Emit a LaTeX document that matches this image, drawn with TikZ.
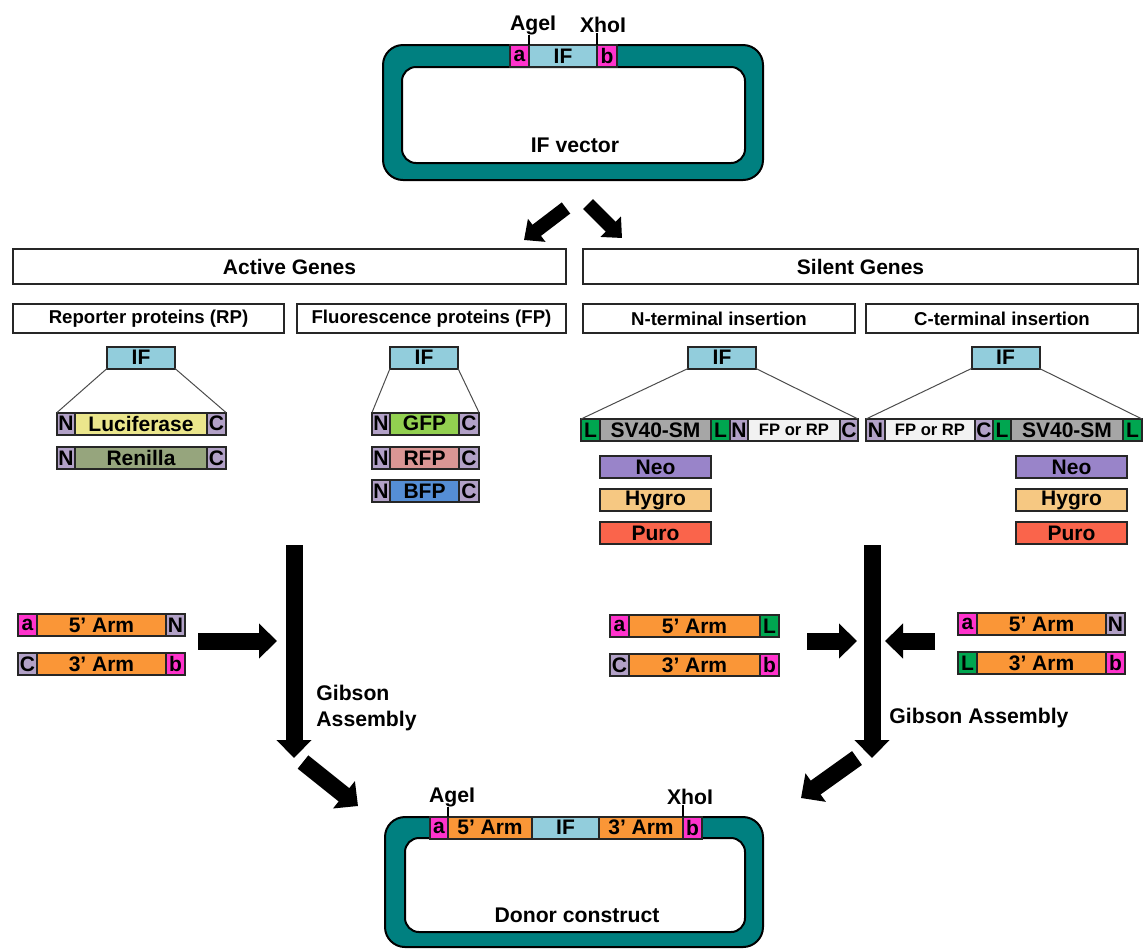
\documentclass[tikz,border=0pt]{standalone}
\usepackage{fontspec}
\setmainfont{Liberation Sans}
\usetikzlibrary{arrows.meta}

\definecolor{vecteal}{RGB}{0,128,128}
\definecolor{sitepink}{RGB}{255,51,204}
\definecolor{ifblue}{RGB}{146,205,220}
\definecolor{tagpurple}{RGB}{178,161,199}
\definecolor{lucyellow}{RGB}{235,230,140}
\definecolor{renolive}{RGB}{150,165,125}
\definecolor{gfpgreen}{RGB}{146,208,80}
\definecolor{rfppink}{RGB}{218,150,148}
\definecolor{bfpblue}{RGB}{85,142,213}
\definecolor{linkgreen}{RGB}{0,166,80}
\definecolor{svgray}{RGB}{166,166,166}
\definecolor{fpwhite}{RGB}{242,242,242}
\definecolor{neopurple}{RGB}{153,132,201}
\definecolor{hygrotan}{RGB}{246,200,130}
\definecolor{purored}{RGB}{250,100,75}
\definecolor{armorange}{RGB}{250,150,55}

\begin{document}
\begin{tikzpicture}[x=0.5pt, y=-0.5pt,
    seg/.style={draw=black!85, line width=1pt, inner sep=0pt, outer sep=0pt,
      minimum height=11pt, anchor=west, font=\bfseries\fontsize{10.5}{12}\selectfont},
    hdr/.style={draw=black!85, line width=1.3pt, inner sep=0pt, minimum height=17.5pt,
      font=\bfseries\fontsize{10.5}{12}\selectfont},
    subhdr/.style={draw=black!85, line width=1.2pt, inner sep=0pt, minimum height=14.5pt,
      font=\bfseries\fontsize{9.3}{11}\selectfont},
    lbl/.style={inner sep=0pt, font=\bfseries\fontsize{10.6}{13}\selectfont},
    vecframe/.style={draw=black, line width=1pt, fill=vecteal, rounded corners=10pt},
    vechole/.style={draw=black, line width=1pt, fill=white, rounded corners=7pt},
    fan/.style={draw=black!70, line width=0.5pt},
    site/.style={line width=1pt},
    blockarrow/.style={line width=8.5pt, -{Triangle[length=9pt, width=17pt]}},
    smallarrow/.style={line width=7pt, -{Triangle[length=8pt, width=14pt]}}]

        \useasboundingbox (0,0) rectangle (1143,949);

        % IF vector
        \node[vecframe, minimum width=190pt, minimum height=67.5pt] (vec) at (573,112.5) {};
        \node[vechole, minimum width=171.5pt, minimum height=48pt] (vecin) at (573.5,115) {};
        \node[lbl] (vectxt) at (575,145) {IF vector};

        \node[seg, fill=sitepink, minimum width=9.5pt] (va) at (510,56) {a};
        \node[seg, fill=ifblue, minimum width=34pt] (vif) at (va.east) {IF};
        \node[seg, fill=sitepink, minimum width=10pt] (vb) at (vif.east) {b};

        \node[lbl] (vage) at (533,25) {AgeI};
        \node[lbl] (vxho) at (603,25) {XhoI};
        \draw[site] (vif.north west) to (vif.north west |- vage.south);
        \draw[site] (vif.north east) to (vif.north east |- vxho.south);

        \coordinate (ta1) at (566,208);
        \coordinate (ta2) at (524,240);
        \coordinate (tb1) at (588,204);
        \coordinate (tb2) at (622,238);
        \draw[smallarrow] (ta1) to (ta2);
        \draw[smallarrow] (tb1) to (tb2);

        % headers
        \node[hdr, minimum width=276.5pt] (act) at (289.5,266.5) {Active Genes};
        \node[hdr, minimum width=277.5pt] (sil) at (860.5,266.5) {Silent Genes};

        \node[subhdr, minimum width=135.5pt] (rp) at (148.5,318.5) {Reporter proteins (RP)};
        \node[subhdr, minimum width=134.5pt] (fp) at (431.5,318.5) {Fluorescence proteins (FP)};
        \node[subhdr, minimum width=136pt] (nt) at (719,318.5) {N-terminal insertion};
        \node[subhdr, minimum width=136pt] (ct) at (1002,318.5) {C-terminal insertion};

        % reporter proteins
        \node[seg, fill=ifblue, minimum width=34pt, anchor=center] (rpif) at (141,357.5) {IF};

        \node[seg, fill=tagpurple, minimum width=9pt] (lucN) at (57,423.5) {N};
        \node[seg, fill=lucyellow, minimum width=66pt] (luc) at (lucN.east) {Luciferase};
        \node[seg, fill=tagpurple, minimum width=9.5pt] (lucC) at (luc.east) {C};

        \node[seg, fill=tagpurple, minimum width=9pt] (renN) at (57,458) {N};
        \node[seg, fill=renolive, minimum width=66pt] (ren) at (renN.east) {Renilla};
        \node[seg, fill=tagpurple, minimum width=9.5pt] (renC) at (ren.east) {C};

        \draw[fan] (rpif.south west) to (lucN.north west);
        \draw[fan] (rpif.south east) to (lucC.north east);

        % fluorescence proteins
        \node[seg, fill=ifblue, minimum width=34pt, anchor=center] (fpif) at (424,357.5) {IF};

        \node[seg, fill=tagpurple, minimum width=9pt] (gfpN) at (372,423.5) {N};
        \node[seg, fill=gfpgreen, minimum width=34.5pt] (gfp) at (gfpN.east) {GFP};
        \node[seg, fill=tagpurple, minimum width=10pt] (gfpC) at (gfp.east) {C};

        \node[seg, fill=tagpurple, minimum width=9pt] (rfpN) at (372,458) {N};
        \node[seg, fill=rfppink, minimum width=34.5pt] (rfp) at (rfpN.east) {RFP};
        \node[seg, fill=tagpurple, minimum width=10pt] (rfpC) at (rfp.east) {C};

        \node[seg, fill=tagpurple, minimum width=9pt] (bfpN) at (372,491) {N};
        \node[seg, fill=bfpblue, minimum width=34.5pt] (bfp) at (bfpN.east) {BFP};
        \node[seg, fill=tagpurple, minimum width=10pt] (bfpC) at (bfp.east) {C};

        \draw[fan] (fpif.south west) to (gfpN.north west);
        \draw[fan] (fpif.south east) to (gfpC.north east);

        % N-terminal insertion
        \node[seg, fill=ifblue, minimum width=34pt, anchor=center] (ntif) at (722,357.5) {IF};

        \node[seg, fill=linkgreen, minimum width=9.5pt] (ntL1) at (581,430) {L};
        \node[seg, fill=svgray, minimum width=55.5pt] (ntsv) at (ntL1.east) {SV40-SM};
        \node[seg, fill=linkgreen, minimum width=9.5pt] (ntL2) at (ntsv.east) {L};
        \node[seg, fill=tagpurple, minimum width=9pt] (ntN) at (ntL2.east) {N};
        \node[seg, fill=fpwhite, minimum width=46pt, font=\bfseries\fontsize{8.3}{10}\selectfont] (ntfp) at (ntN.east) {FP or RP};
        \node[seg, fill=tagpurple, minimum width=9pt] (ntC) at (ntfp.east) {C};

        \draw[fan] (ntif.south west) to (ntL1.north west);
        \draw[fan] (ntif.south east) to (ntC.north east);

        \node[seg, fill=neopurple, minimum width=55.5pt] (ntneo) at (600,467) {Neo};
        \node[seg, fill=hygrotan, minimum width=55.5pt] (nthyg) at (600,500) {Hygro};
        \node[seg, fill=purored, minimum width=55.5pt] (ntpur) at (600,533) {Puro};

        % C-terminal insertion
        \node[seg, fill=ifblue, minimum width=34pt, anchor=center] (ctif) at (1005.5,357.5) {IF};

        \node[seg, fill=tagpurple, minimum width=9.5pt] (ctN) at (866,430) {N};
        \node[seg, fill=fpwhite, minimum width=45pt, font=\bfseries\fontsize{8.3}{10}\selectfont] (ctfp) at (ctN.east) {FP or RP};
        \node[seg, fill=tagpurple, minimum width=9pt] (ctC) at (ctfp.east) {C};
        \node[seg, fill=linkgreen, minimum width=9pt] (ctL1) at (ctC.east) {L};
        \node[seg, fill=svgray, minimum width=56pt] (ctsv) at (ctL1.east) {SV40-SM};
        \node[seg, fill=linkgreen, minimum width=9.5pt] (ctL2) at (ctsv.east) {L};

        \draw[fan] (ctif.south west) to (ctN.north west);
        \draw[fan] (ctif.south east) to (ctL2.north east);

        \node[seg, fill=neopurple, minimum width=55.5pt] (ctneo) at (1016,467) {Neo};
        \node[seg, fill=hygrotan, minimum width=55.5pt] (cthyg) at (1016,500) {Hygro};
        \node[seg, fill=purored, minimum width=55.5pt] (ctpur) at (1016,533) {Puro};

        % homology arms
        \node[seg, fill=sitepink, minimum width=9.5pt] (aa1) at (18,625) {a};
        \node[seg, fill=armorange, minimum width=64.5pt] (aarm5) at (aa1.east) {5’ Arm};
        \node[seg, fill=tagpurple, minimum width=9.5pt] (aN) at (aarm5.east) {N};
        \node[seg, fill=tagpurple, minimum width=9.5pt] (aC) at (18,664) {C};
        \node[seg, fill=armorange, minimum width=64.5pt] (aarm3) at (aC.east) {3’ Arm};
        \node[seg, fill=sitepink, minimum width=9.5pt] (ab1) at (aarm3.east) {b};

        \node[seg, fill=sitepink, minimum width=9.5pt] (na1) at (610,626) {a};
        \node[seg, fill=armorange, minimum width=65.5pt] (narm5) at (na1.east) {5’ Arm};
        \node[seg, fill=linkgreen, minimum width=9.5pt] (nL) at (narm5.east) {L};
        \node[seg, fill=tagpurple, minimum width=9.5pt] (nC) at (610,665) {C};
        \node[seg, fill=armorange, minimum width=65.5pt] (narm3) at (nC.east) {3’ Arm};
        \node[seg, fill=sitepink, minimum width=9.5pt] (nb1) at (narm3.east) {b};

        \node[seg, fill=sitepink, minimum width=9.5pt] (ca1) at (958,624) {a};
        \node[seg, fill=armorange, minimum width=64.5pt] (carm5) at (ca1.east) {5’ Arm};
        \node[seg, fill=tagpurple, minimum width=9.5pt] (cN) at (carm5.east) {N};
        \node[seg, fill=linkgreen, minimum width=9.5pt] (cL) at (958,663) {L};
        \node[seg, fill=armorange, minimum width=64.5pt] (carm3) at (cL.east) {3’ Arm};
        \node[seg, fill=sitepink, minimum width=9.5pt] (cb1) at (carm3.east) {b};

        % Gibson assembly
        \coordinate (gl1) at (294,545);
        \coordinate (gl2) at (294,758);
        \coordinate (hl1) at (198,641);
        \coordinate (hl2) at (277,641);
        \coordinate (dl1) at (303,762);
        \coordinate (dl2) at (358,806);
        \draw[blockarrow] (gl1) to (gl2);
        \draw[blockarrow] (hl1) to (hl2);
        \draw[blockarrow] (dl1) to (dl2);
        \node[lbl, align=left, anchor=west] (gibl) at (316,708) {Gibson\\Assembly};

        \coordinate (gr1) at (872,545);
        \coordinate (gr2) at (872,758);
        \coordinate (hr1) at (807,641);
        \coordinate (hr2) at (857,641);
        \coordinate (hr3) at (935,641);
        \coordinate (hr4) at (885,641);
        \coordinate (dr1) at (857,758);
        \coordinate (dr2) at (801,798);
        \draw[blockarrow] (gr1) to (gr2);
        \draw[blockarrow] (hr1) to (hr2);
        \draw[blockarrow] (hr3) to (hr4);
        \draw[blockarrow] (dr1) to (dr2);
        \node[lbl, anchor=west] (gibr) at (889,718) {Gibson Assembly};

        % donor construct
        \node[vecframe, minimum width=189pt, minimum height=65pt] (don) at (574,882) {};
        \node[vechole, minimum width=170pt, minimum height=47pt] (donin) at (575,885) {};
        \node[lbl] (dontxt) at (577,915) {Donor construct};

        \node[seg, fill=sitepink, minimum width=9pt] (da) at (430,827.5) {a};
        \node[seg, fill=armorange, minimum width=42pt] (darm5) at (da.east) {5’ Arm};
        \node[seg, fill=ifblue, minimum width=33.5pt] (dif) at (darm5.east) {IF};
        \node[seg, fill=armorange, minimum width=42pt] (darm3) at (dif.east) {3’ Arm};
        \node[seg, fill=sitepink, minimum width=9.5pt] (db) at (darm3.east) {b};

        \node[lbl] (dage) at (452,797) {AgeI};
        \node[lbl] (dxho) at (690,797) {XhoI};
        \draw[site] (da.north east) to (da.north east |- dage.south);
        \draw[site] (darm3.north east) to (darm3.north east |- dxho.south);

      \end{tikzpicture}
\end{document}
